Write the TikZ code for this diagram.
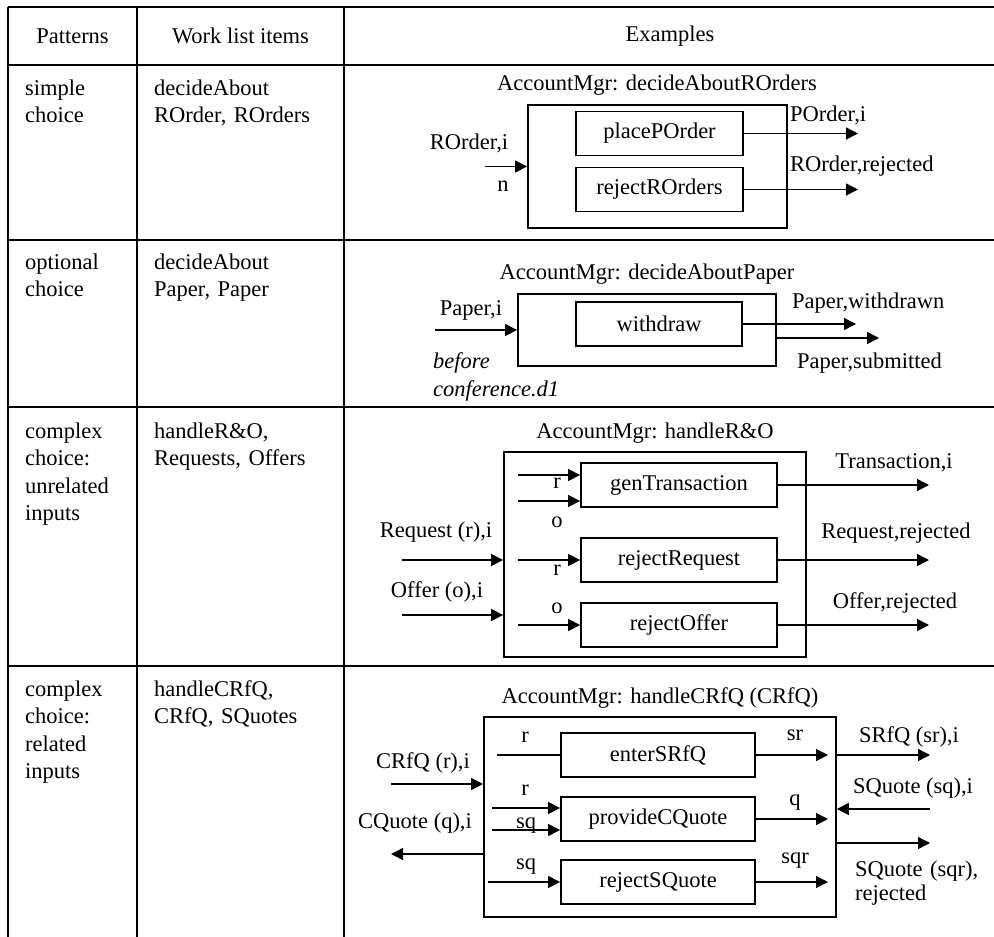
\documentclass[tikz,border=0pt]{standalone}
\usepackage{fontspec}
\setmainfont{Liberation Serif}
\usepackage{tikz}
\usetikzlibrary{arrows.meta}

\begin{document}
\begin{tikzpicture}[x=1pt, y=-1pt,
  every node/.style={font={\fontsize{22.5}{27.5}\selectfont}, inner sep=0pt},
  tabline/.style={line width=1.6pt},
  mgrbox/.style={draw, line width=1.8pt},
  actbox/.style={draw, line width=1.8pt, minimum height=44pt},
  celltext/.style={anchor=base west, text width=180pt, align=left},
  arr/.style={line width=1.4pt, -{Triangle[length=12pt,width=12pt]}}]
\useasboundingbox (0,0) rectangle (994,937);

\draw[tabline] (8,7) -- (994,7);
\draw[tabline] (8,65) -- (994,65);
\draw[tabline] (8,240) -- (994,240);
\draw[tabline] (8,407) -- (994,407);
\draw[tabline] (8,666) -- (994,666);
\draw[tabline] (8,7) -- (8,937);
\draw[tabline] (137,7) -- (137,937);
\draw[tabline] (344,7) -- (344,937);

\node (hpat) at (72.5,36) {Patterns};
\node (hwl) at (240.5,36) {Work list items};
\node (hex) at (670,36) {Examples};

\node[celltext] (pat1) at (25,95) {simple\\choice};
\node[celltext] (wl1) at (154,95) {decideAbout\\ROrder, ROrders};
\node[celltext] (pat2) at (25,269) {optional\\choice};
\node[celltext] (wl2) at (154,269) {decideAbout\\Paper, Paper};
\node[celltext] (pat3) at (25,438) {complex\\choice:\\unrelated\\inputs};
\node[celltext] (wl3) at (154,438) {handleR\&O,\\Requests, Offers};
\node[celltext] (pat4) at (25,696) {complex\\choice:\\related\\inputs};
\node[celltext] (wl4) at (154,696) {handleCRfQ,\\CRfQ, SQuotes};

\node (t1) at (657,85) {AccountMgr: decideAboutROrders};
\node[mgrbox, minimum width=259pt, minimum height=123pt] (ob1) at (657.5,166.5) {};
\node[actbox, minimum width=167pt] (place) at (659.5,133.5) {placePOrder};
\node[actbox, minimum width=167pt] (rejro) at (659.5,189.5) {rejectROrders};
\coordinate (ro_in) at (485,166.5);
\coordinate (po_out) at (858,133.5);
\coordinate (rr_out) at (858,189.5);
\draw[arr] (ro_in) -- (ob1.west);
\draw[arr] (place.east) -- (po_out);
\draw[arr] (rejro.east) -- (rr_out);
\node (ro_lbl) at (469,143) {ROrder,i};
\node (n_lbl) at (503,186) {n};
\node[anchor=west] (po_lbl) at (790,115) {POrder,i};
\node[anchor=west] (rr_lbl) at (790,166) {ROrder,rejected};

\node (t2) at (647,274) {AccountMgr: decideAboutPaper};
\node[mgrbox, minimum width=258pt, minimum height=72pt] (ob2) at (647,330) {};
\node[actbox, minimum width=166pt] (withdraw) at (659,324) {withdraw};
\coordinate (pa_in) at (435,330);
\coordinate (pw_out) at (856,324);
\coordinate (ps_out) at (879,338);
\draw[arr] (pa_in) -- (ob2.west);
\draw[arr] (withdraw.east) -- (pw_out);
\draw[arr] (ps_out -| ob2.east) -- (ps_out);
\node (pa_lbl) at (471,310) {Paper,i};
\node[celltext, font={\fontsize{22.5}{28}\selectfont\itshape}] (before) at (433,368) {before\\conference.d1};
\node[anchor=west] (pw_lbl) at (792,303) {Paper,withdrawn};
\node[anchor=west] (ps_lbl) at (797,363) {Paper,submitted};

\node (t3) at (655,433) {AccountMgr: handleR\&O};
\node[mgrbox, minimum width=302pt, minimum height=205pt] (ob3) at (655,554.5) {};
\node[actbox, minimum width=196pt] (gentr) at (679,485) {genTransaction};
\node[actbox, minimum width=196pt] (rejreq) at (679,560) {rejectRequest};
\node[actbox, minimum width=196pt] (rejoff) at (679,625) {rejectOffer};
\coordinate (g_r) at (518,475);
\coordinate (g_o) at (518,501);
\coordinate (q_r) at (518,560);
\coordinate (f_o) at (518,625);
\draw[arr] (g_r) -- (g_r -| gentr.west);
\draw[arr] (g_o) -- (g_o -| gentr.west);
\draw[arr] (q_r) -- (rejreq.west);
\draw[arr] (f_o) -- (rejoff.west);
\node (gr_lbl) at (557,483) {r};
\node (go_lbl) at (557,522) {o};
\node (qr_lbl) at (557,570) {r};
\node (fo_lbl) at (557,608) {o};
\coordinate (tr_out) at (929,485);
\coordinate (rq_out) at (929,560);
\coordinate (of_out) at (929,625);
\draw[arr] (gentr.east) -- (tr_out);
\draw[arr] (rejreq.east) -- (rq_out);
\draw[arr] (rejoff.east) -- (of_out);
\node (tr_lbl) at (894,463) {Transaction,i};
\node (rq_lbl) at (896,533) {Request,rejected};
\node (of_lbl) at (895,603) {Offer,rejected};
\coordinate (rq_in) at (402,560);
\coordinate (of_in) at (402,615);
\draw[arr] (rq_in) -- (rq_in -| ob3.west);
\draw[arr] (of_in) -- (of_in -| ob3.west);
\node (rqi_lbl) at (436,532) {Request (r),i};
\node (ofi_lbl) at (437,592) {Offer (o),i};

\node (t4) at (660,698) {AccountMgr: handleCRfQ (CRfQ)};
\node[mgrbox, minimum width=352pt, minimum height=200pt] (ob4) at (660,817) {};
\node[actbox, minimum width=194pt] (entsrfq) at (658,755) {enterSRfQ};
\node[actbox, minimum width=194pt] (provcq) at (658,819) {provideCQuote};
\node[actbox, minimum width=194pt] (rejsq) at (658,882) {rejectSQuote};
\coordinate (e_r) at (497,755);
\coordinate (p_r) at (492,808);
\coordinate (p_sq) at (492,830);
\coordinate (s_sq) at (488,882);
\draw[line width=1.4pt] (e_r) -- (entsrfq.west);
\draw[arr] (p_r) -- (p_r -| provcq.west);
\draw[arr] (p_sq) -- (p_sq -| provcq.west);
\draw[arr] (s_sq) -- (rejsq.west);
\node (er_lbl) at (525,737) {r};
\node (pr_lbl) at (525,790) {r};
\node (psq_lbl) at (526,825) {sq};
\node (ssq_lbl) at (526,866) {sq};
\coordinate (e_sr) at (828,755);
\coordinate (p_q) at (828,819);
\coordinate (s_sqr) at (828,882);
\draw[arr] (entsrfq.east) -- (e_sr);
\draw[arr] (provcq.east) -- (p_q);
\draw[arr] (rejsq.east) -- (s_sqr);
\node (sr_lbl) at (795,735) {sr};
\node (q_lbl) at (795,802) {q};
\node (sqr_lbl) at (795,860) {sqr};
\coordinate (cr_in) at (391,784);
\coordinate (cq_out) at (391,854);
\draw[arr] (cr_in) -- (cr_in -| ob4.west);
\draw[arr] (cq_out -| ob4.west) -- (cq_out);
\node (cri_lbl) at (423,763) {CRfQ (r),i};
\node (cqo_lbl) at (415,823) {CQuote (q),i};
\coordinate (srf_out) at (930,755);
\coordinate (sq_in) at (930,809);
\coordinate (sqr_out) at (930,843);
\draw[arr] (srf_out -| ob4.east) -- (srf_out);
\draw[arr] (sq_in) -- (sq_in -| ob4.east);
\draw[arr] (sqr_out -| ob4.east) -- (sqr_out);
\node (srf_lbl) at (909,737) {SRfQ (sr),i};
\node (sqi_lbl) at (913,788) {SQuote (sq),i};
\node[celltext, text width=140pt, font={\fontsize{22.5}{24}\selectfont}] (sqro_lbl) at (855,876) {SQuote (sqr),\\rejected};
\end{tikzpicture}
\end{document}
